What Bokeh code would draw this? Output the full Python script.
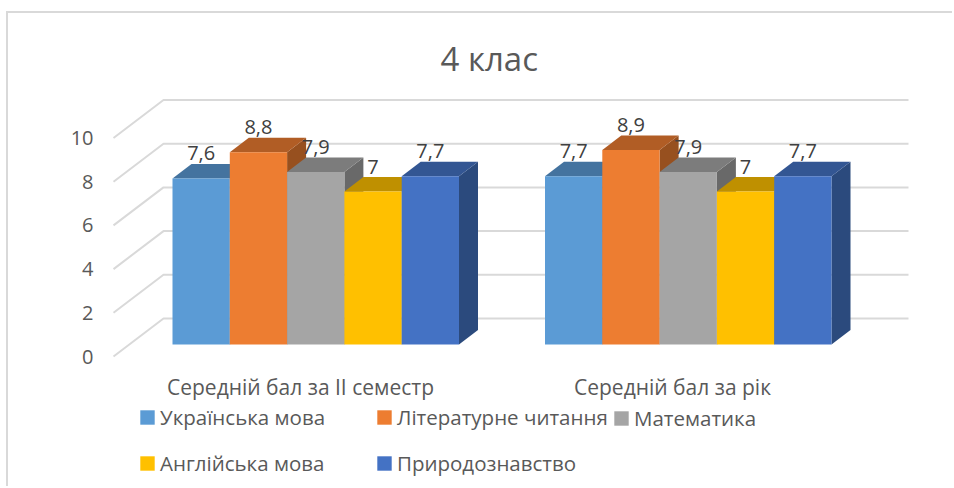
from bokeh.plotting import figure
from bokeh.embed import file_html
from bokeh.resources import INLINE
from bokeh.core.properties import value
from bokeh.models import Range1d, FixedTicker, Legend, LegendItem, Title

# ---- data ----
title_text = "4 клас"
categories = ["Середній бал за II семестр", "Середній бал за рік"]
series_names = ["Українська мова", "Літературне читання", "Математика", "Англійська мова", "Природознавство"]
semester_values = [7.6, 8.8, 7.9, 7.0, 7.7]
year_values = [7.7, 8.9, 7.9, 7.0, 7.7]
y_ticks = [0, 2, 4, 6, 8, 10]
front_colors = ["#5B9BD5", "#ED7D31", "#A5A5A5", "#FFC000", "#4472C4"]
top_colors = ["#44739F", "#B15D25", "#7C7C7C", "#BF9000", "#335693"]
side_colors = ["#3A6288", "#97501F", "#696969", "#A37A00", "#2B4A7D"]

# ---- layout of the oblique projection (x in pixels of page, y in value units) ----
FONT = "Open Sans"
PAGE_X, PAGE_Y = 8, 13
FRAME_L, FRAME_R, FRAME_T, FRAME_B = 104, 954, 90, 488
ZERO_Y = 356
UNIT = 21.85
DEPTH_X, DEPTH_Y = 50, 38 / UNIT       # full depth of the floor
FLOOR_L, WALL_R = 113, 908
BAR_D0, BAR_D = 0.316, 0.38            # where bars start and how deep they are
BAR_W = 57.3
GROUP_X = [172, 544.5]
LABEL_X = [300, 672]
LEGEND_COLUMNS = [([0, 3], 34, 11.5), ([1, 4], 271, 11.5), ([2], 508, 56.5)]

p = figure(width=954 - PAGE_X, height=488 - PAGE_Y, output_backend="svg", toolbar_location=None,
           x_range=Range1d(FRAME_L, FRAME_R),
           y_range=Range1d((ZERO_Y - FRAME_B) / UNIT, (ZERO_Y - FRAME_T) / UNIT),
           min_border_left=FRAME_L - PAGE_X, min_border_right=0,
           min_border_top=FRAME_T - PAGE_Y, min_border_bottom=0,
           outline_line_color=None, background_fill_color="white")
p.margin = (PAGE_Y, 0, 0, PAGE_X)
p.styles = {"box-shadow": "-2px -2px 0 0 #D9D9D9"}
p.grid.visible = False

t = Title(text=title_text, text_font=FONT, text_font_size="33px", text_font_style="normal",
          text_color="#595959", align="left", offset=336, standoff=19)
p.title = t

# y axis
ya = p.yaxis[0]
ya.ticker = FixedTicker(ticks=y_ticks)
ya.axis_line_color = None
ya.major_tick_line_color = None
ya.minor_tick_line_color = None
ya.major_label_text_font = FONT
ya.major_label_text_font_size = "20px"
ya.major_label_text_color = "#595959"
ya.major_label_standoff = 5

# x axis
xa = p.xaxis[0]
xa.ticker = FixedTicker(ticks=LABEL_X)
xa.major_label_overrides = {x: c for x, c in zip(LABEL_X, categories)}
xa.axis_line_color = None
xa.major_tick_line_color = None
xa.minor_tick_line_color = None
xa.major_label_text_font = FONT
xa.major_label_text_font_size = "21px"
xa.major_label_text_color = "#595959"
xa.major_label_standoff = -122

# wall and floor gridlines
xs = [[FLOOR_L, FLOOR_L + DEPTH_X, WALL_R] for _ in y_ticks]
ys = [[v, v + DEPTH_Y, v + DEPTH_Y] for v in y_ticks]
p.multi_line(xs, ys, line_color="#D9D9D9", line_width=2)

# bars
fronts = [None] * len(series_names)
label_x, label_y, label_txt = [], [], []
for g, vals in enumerate([semester_values, year_values]):
    for i, v in enumerate(vals):
        x0 = GROUP_X[g] + i * BAR_W
        x1 = x0 + BAR_W
        b0 = BAR_D0 * DEPTH_Y
        bd = BAR_D * DEPTH_Y
        dx = BAR_D * DEPTH_X
        p.patch([x1, x1 + dx, x1 + dx, x1], [b0, b0 + bd, b0 + bd + v, b0 + v], fill_color=side_colors[i], line_color=None)
        p.patch([x0, x1, x1 + dx, x0 + dx], [b0 + v, b0 + v, b0 + v + bd, b0 + v + bd], fill_color=top_colors[i], line_color=None)
        front = p.quad(left=x0, right=x1, bottom=b0, top=b0 + v, fill_color=front_colors[i], line_color=None)
        if g == 0:
            fronts[i] = front
        label_x.append((x0 + x1) / 2)
        label_y.append(b0 + v + 25 / UNIT)
        label_txt.append(f"{v:g}".replace(".", ","))

p.text(label_x, label_y, text=label_txt, text_font=value(FONT), text_font_size="20px",
       text_color="#404040", text_align="center", text_baseline="middle")

for members, lx, ly in LEGEND_COLUMNS:
    legend = Legend(items=[LegendItem(label=series_names[i], renderers=[fronts[i]]) for i in members],
                    location=(lx, ly), orientation="vertical",
                    background_fill_alpha=0, border_line_color=None, padding=0, margin=0,
                    glyph_width=18, glyph_height=18, label_standoff=4, spacing=18,
                    label_text_font=FONT, label_text_font_size="20.5px", label_text_color="#595959")
    p.add_layout(legend, "center")

open("out.html", "w").write(file_html(p, INLINE))
